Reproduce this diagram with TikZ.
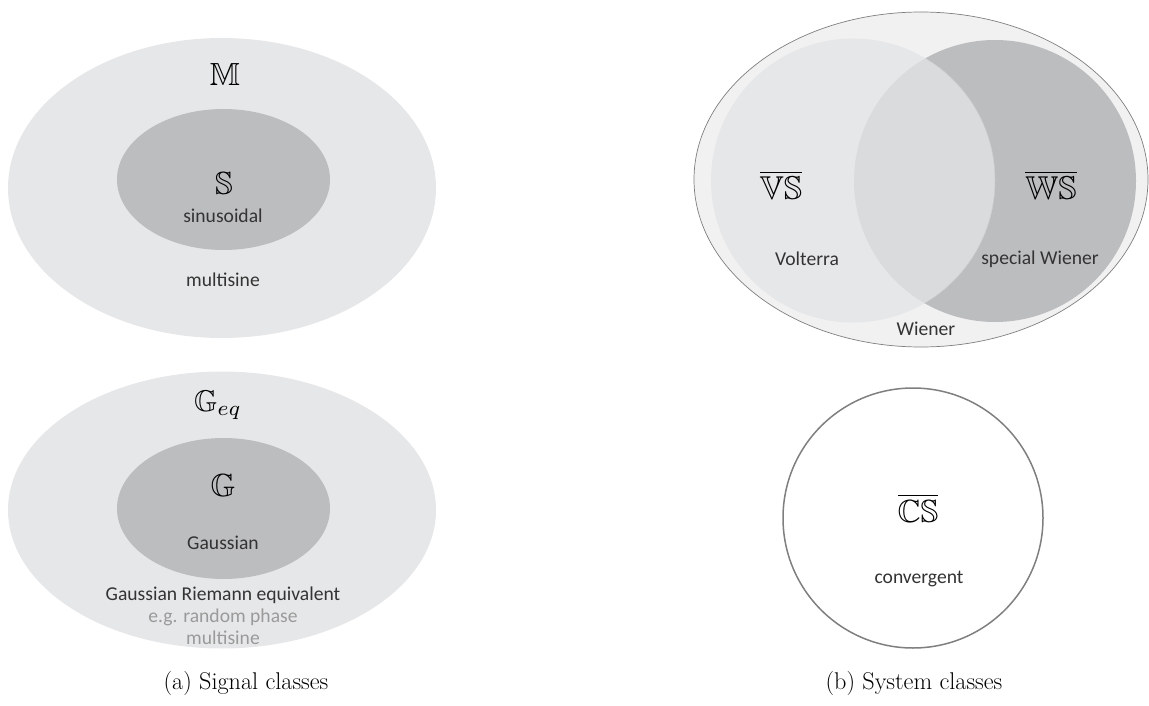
\documentclass[tikz,border=0pt]{standalone}
\usepackage{amssymb}
\usepackage{graphicx}
\usepackage{fontspec}
\newfontfamily\sansc{Carlito}
\usetikzlibrary{shapes.geometric}
\definecolor{lightg}{HTML}{E6E7E8}
\definecolor{midg}{HTML}{BCBDBF}
\definecolor{paleg}{HTML}{F1F1F2}
\definecolor{overg}{HTML}{DADBDC}
\definecolor{txtc}{HTML}{333333}
\definecolor{greytxt}{HTML}{9A9A9A}
\definecolor{edgec}{HTML}{7F7F7F}
\newcommand{\bsym}[2]{\scalebox{#1}{$#2$}}
\tikzset{
  blob/.style={ellipse, inner sep=0pt, draw=none},
  lbl/.style={font=\sansc\fontsize{19.6}{23}\selectfont, text=txtc, inner sep=0pt},
  glbl/.style={font=\sansc\fontsize{19.6}{23}\selectfont, text=greytxt, inner sep=0pt},
  sym/.style={inner sep=0pt},
  capt/.style={font=\fontsize{24.2}{29}\selectfont, inner sep=0pt}
}
\begin{document}
\begin{tikzpicture}[x=1pt,y=-1pt]
\useasboundingbox (0,0) rectangle (1149,706);
% ---- (a) top: multisine / sinusoidal
\node[blob, fill=lightg, minimum width=428pt, minimum height=300pt] (Mset) at (222,188) {};
\node[blob, fill=midg, minimum width=213pt, minimum height=141pt] (Sset) at (223.5,179.5) {};
\node[sym] (Mlab) at (225,74) {\bsym{3.2}{\mathbb{M}}};
\node[sym] (Slab) at (224,183) {\bsym{3.2}{\mathbb{S}}};
\node[lbl] (sinus) at (223,216) {sinusoidal};
\node[lbl] (multi) at (223,280) {multisine};
% ---- (a) bottom: Gaussian
\node[blob, fill=lightg, minimum width=428pt, minimum height=277pt] (Geqset) at (222,510) {};
\node[blob, fill=midg, minimum width=213pt, minimum height=141pt] (Gset) at (223.5,508.5) {};
\node[sym] (Geqlab) at (218,405) {\bsym{3.0}{\mathbb{G}_{eq}}};
\node[sym] (Glab) at (223,485) {\bsym{3.2}{\mathbb{G}}};
\node[lbl] (gauss) at (223,543) {Gaussian};
\node[lbl] (gre) at (223,595) {Gaussian Riemann equivalent};
\node[glbl] (eg) at (223,617) {e.g. random phase};
\node[glbl] (ms2) at (223,638) {multisine};
% ---- (b) top: Venn
\node[blob, fill=paleg, draw=edgec, line width=0.7pt, minimum width=454pt, minimum height=335pt] (Wset) at (921,179.5) {};
\node[circle, fill=midg, inner sep=0pt, minimum size=282pt] (WSset) at (995,181) {};
\node[circle, fill=lightg, inner sep=0pt, minimum size=284pt] (VSset) at (853,180.5) {};
\begin{scope}
  \clip (995,181) circle (141pt);
  \fill[overg, draw=midg!80!white, line width=0.5pt] (853,180.5) circle (142pt);
\end{scope}
\node[sym] (VSlab) at (781,185) {\bsym{3.3}{\overline{\mathbb{VS}}}};
\node[sym] (WSlab) at (1051,185) {\bsym{3.3}{\overline{\mathbb{WS}}}};
\node[lbl] (volt) at (807,259) {Volterra};
\node[lbl] (spw) at (1040,259) {special Wiener};
\node[lbl] (wien) at (926,329) {Wiener};
% ---- (b) bottom: convergent
\node[circle, draw=edgec, line width=1.5pt, fill=white, inner sep=0pt, minimum size=260pt] (CSset) at (913,518) {};
\node[sym] (CSlab) at (918,508) {\bsym{3.2}{\overline{\mathbb{CS}}}};
\node[lbl] (conv) at (919,579) {convergent};
% ---- captions
\node[capt] (capa) at (246,683) {(a) Signal classes};
\node[capt] (capb) at (914,683) {(b) System classes};
\end{tikzpicture}
\end{document}
